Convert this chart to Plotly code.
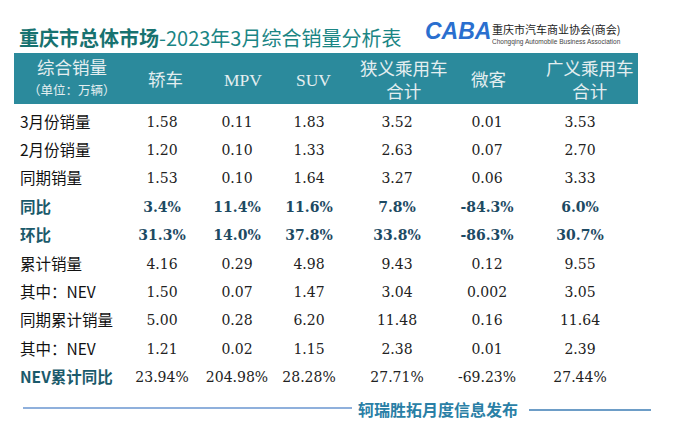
import plotly.graph_objects as go

# 表头与行名
columns = ["综合销量", "轿车", "MPV", "SUV", "狭义乘用车<br>合计", "微客", "广义乘用车<br>合计"]
unit_note = "（单位：万辆）"
rows = ["3月份销量", "2月份销量", "同期销量", "同比", "环比",
        "累计销量", "其中：NEV", "同期累计销量", "其中：NEV", "NEV累计同比"]
bold_rows = ["同比", "环比", "NEV累计同比"]
pct_rows = ["同比", "环比"]

# 各列数值（万辆 / 百分比）
sedan = ["1.58", "1.20", "1.53", "3.4%", "31.3%", "4.16", "1.50", "5.00", "1.21", "23.94%"]
mpv = ["0.11", "0.10", "0.10", "11.4%", "14.0%", "0.29", "0.07", "0.28", "0.02", "204.98%"]
suv = ["1.83", "1.33", "1.64", "11.6%", "37.8%", "4.98", "1.47", "6.20", "1.15", "28.28%"]
narrow_pv = ["3.52", "2.63", "3.27", "7.8%", "33.8%", "9.43", "3.04", "11.48", "2.38", "27.71%"]
minivan = ["0.01", "0.07", "0.06", "-84.3%", "-86.3%", "0.12", "0.002", "0.16", "0.01", "-69.23%"]
broad_pv = ["3.53", "2.70", "3.33", "6.0%", "30.7%", "9.55", "3.05", "11.64", "2.39", "27.44%"]

W, H = 691, 426
TEAL = "#2b8a9c"
SERIF = "DejaVu Serif, Noto Sans CJK SC"
SANS = "Noto Sans CJK SC"

# 列边界（像素）与表头文字位置
col_edges = [12, 124, 200, 274, 344, 450, 524, 636]
header_x = [72, 165, 243, 313, 404, 488, 590]


def px_x(v):
    return v / W


def px_y(v):
    return 1 - v / H


value_cols = [sedan, mpv, suv, narrow_pv, minivan, broad_pv]


def table_layer(label_keep, value_keep, weight, label_color, value_color):
    labels = [r if label_keep(r) else "" for r in rows]
    vals = [[v if value_keep(r) else "" for r, v in zip(rows, col)] for col in value_cols]
    return go.Table(
        domain=dict(x=[px_x(col_edges[0]), px_x(col_edges[-1])], y=[px_y(400), px_y(53)]),
        columnwidth=[b - a for a, b in zip(col_edges[:-1], col_edges[1:])],
        header=dict(values=[""] * len(columns), fill_color="rgba(0,0,0,0)",
                    line_color="rgba(0,0,0,0)", height=55),
        cells=dict(
            values=[labels] + vals,
            fill_color="rgba(0,0,0,0)",
            line_color="rgba(0,0,0,0)",
            align=["left"] + ["center"] * 6,
            height=28.4,
            font=dict(family=[SANS] + [SERIF] * 6, size=[15.5] + [14] * 6,
                      color=[label_color] + [value_color] * 6, weight=weight),
        ),
    )


fig = go.Figure()
# 常规文字
fig.add_trace(table_layer(lambda r: r not in bold_rows, lambda r: r not in pct_rows,
                          "normal", "#111111", "#222222"))
# 加粗文字（同比、环比）
fig.add_trace(table_layer(lambda r: r in bold_rows, lambda r: r in pct_rows,
                          "bold", "#1b5a6b", "#1d4a63"))

# 表头色带
fig.add_shape(type="rect", xref="paper", yref="paper", layer="below",
              x0=px_x(14), x1=px_x(638), y0=px_y(104), y1=px_y(53),
              fillcolor=TEAL, line_width=0)

# 表头文字
head_font = dict(family="Liberation Serif, Noto Sans CJK SC", size=17.5, color="#e4eef0")
for name, x in zip(columns, header_x):
    if name == "综合销量":
        fig.add_annotation(x=px_x(x), y=px_y(68), text=name, showarrow=False,
                           xref="paper", yref="paper", xanchor="center", yanchor="middle",
                           font=head_font)
        fig.add_annotation(x=px_x(x), y=px_y(91), text=unit_note, showarrow=False,
                           xref="paper", yref="paper", xanchor="center", yanchor="middle",
                           font=dict(family=SERIF, size=12.5, color="#e4eef0"))
    else:
        fig.add_annotation(x=px_x(x), y=px_y(80), text=name, showarrow=False,
                           xref="paper", yref="paper", xanchor="center", yanchor="middle",
                           font=head_font)

# 标题
fig.add_annotation(
    x=px_x(17), y=px_y(37), xref="paper", yref="paper", xanchor="left", yanchor="middle",
    text="<b><span style='color:#177270'>重庆市总体市场</span></b>-2023年3月综合销量分析表",
    showarrow=False, font=dict(family=SANS, size=20, color="#1a8584"),
)

# 协会标志
fig.add_annotation(
    x=px_x(423), y=px_y(31), xref="paper", yref="paper", xanchor="left", yanchor="middle",
    text="<b><i>CABA</i></b>", showarrow=False,
    font=dict(family="Liberation Sans", size=23, color="#2a6fcf"),
)
fig.add_annotation(
    x=px_x(490), y=px_y(29), xref="paper", yref="paper", xanchor="left", yanchor="middle",
    text="重庆市汽车商业协会(商会)", showarrow=False,
    font=dict(family=SANS, size=11, color="#222222"),
)
fig.add_annotation(
    x=px_x(490), y=px_y(42), xref="paper", yref="paper", xanchor="left", yanchor="middle",
    text="Chongqing Automobile Business Association", showarrow=False,
    font=dict(family="Liberation Sans", size=6.5, color="#444444"),
)

# 底部署名
fig.add_shape(type="line", xref="paper", yref="paper",
              x0=px_x(23), x1=px_x(352), y0=px_y(408), y1=px_y(408),
              line=dict(color="#8fb0dc", width=2))
fig.add_shape(type="line", xref="paper", yref="paper",
              x0=px_x(529), x1=px_x(651), y0=px_y(410), y1=px_y(410),
              line=dict(color="#3d7db5", width=1.5))
fig.add_annotation(
    x=px_x(356), y=px_y(409), xref="paper", yref="paper", xanchor="left", yanchor="middle",
    text="<b>轲瑞胜拓月度信息发布</b>", showarrow=False,
    font=dict(family=SANS, size=16, color="#2a7fa6"),
)

fig.update_layout(
    width=W, height=H,
    margin=dict(l=0, r=0, t=0, b=0),
    paper_bgcolor="white", plot_bgcolor="white",
)

# 去掉页面默认的 8px 边距，并隐藏工具栏
fig.write_html("out.html", config={"displayModeBar": False},
               post_script="document.body.style.margin = '0';")
